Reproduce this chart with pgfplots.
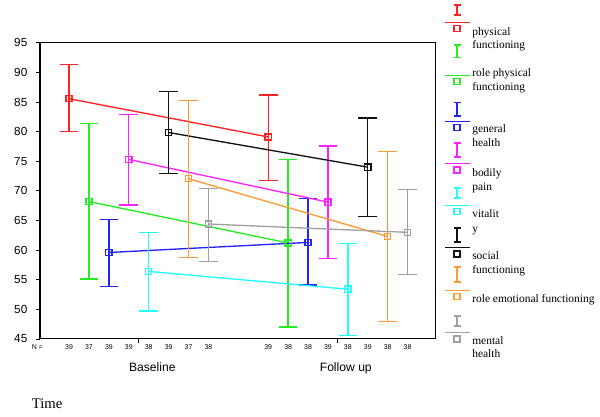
\documentclass[border=0pt]{standalone}
\usepackage{fontspec}
\setmainfont{Liberation Serif}
\newfontfamily\arial{Liberation Sans}
\usepackage{pgfplots}
\pgfplotsset{compat=1.18}
\definecolor{cR}{HTML}{FF2222}
\definecolor{cG}{HTML}{22EE22}
\definecolor{cB}{HTML}{2222FF}
\definecolor{cM}{HTML}{FF22FF}
\definecolor{cC}{HTML}{22FFFF}
\definecolor{cK}{HTML}{111111}
\definecolor{cO}{HTML}{FF9933}
\definecolor{cY}{HTML}{A0A0A0}
\newcommand\legfont{\fontsize{8.6}{10}\selectfont}
\newcommand\legsym[5]{%
  \draw[#1, line width=1pt] (457,#2) -- (457,#3) (453.5,#2) -- (460.5,#2) (453.5,#3) -- (460.5,#3);
  \draw[#1, line width=1pt] (445,#4) -- (470,#4);
  \draw[#1, line width=1pt] (454,{#5-3}) rectangle (460,{#5+3});}
\newcommand\legtext[2]{\node[anchor=base west, inner sep=0pt, font=\legfont] at (472,{#1+2.8}) {#2};}
\begin{document}
\begin{tikzpicture}
\begin{scope}[x=0.75pt, y=-0.75pt, shift={(-30pt,254.25pt)}]
\useasboundingbox (0,0) rectangle (600,417);
\end{scope}
\begin{axis}[
  at={(0,0)}, anchor=south west,
  scale only axis, width=296.6pt, height=222.2pt,
  xmin=-1.46, xmax=18.4, ymin=45, ymax=95,
  axis line style={line width=0.75pt},
  ytick={45,50,...,95},
  tick align=outside, tick pos=left,
  major tick length=3pt,
  tick style={black, line width=0.6pt},
  yticklabel style={font=\arial\fontsize{8.8}{10}\selectfont, xshift=-3pt},
  /pgf/number format/assume math mode=true,
  xtick={3.5,13.5}, xticklabels={},
  extra x ticks={0,1,2,3,4,5,6,7,10,11,12,13,14,15,16,17},
  extra x tick labels={39,37,39,39,38,39,37,38,39,38,38,39,38,39,38,38},
  extra x tick style={major tick length=0pt, tick label style={font=\arial\fontsize{5.2}{6}\selectfont, anchor=center, yshift=-6.4pt}},
  clip=false,
  error bars/y dir=both, error bars/y explicit,
  error bars/error mark options={rotate=90, mark size=7pt, line width=1pt},
  every axis plot/.append style={line width=1pt, mark=square, mark size=2.3pt, mark options={fill=white, solid}},
]
\addplot[cR, error bars/error bar style={cR, line width=1pt}] table[x=x,y=y,y error plus=ep,y error minus=em] {
x y ep em
0 85.55 5.8 5.55
10 79.1 7.1 7.3
};
\addplot[cG, error bars/error bar style={cG, line width=1pt}] table[x=x,y=y,y error plus=ep,y error minus=em] {
x y ep em
1 68.2 13.2 13.1
11 61.2 14.1 14.2
};
\addplot[cB, error bars/error bar style={cB, line width=1pt}] table[x=x,y=y,y error plus=ep,y error minus=em] {
x y ep em
2 59.6 5.55 5.7
12 61.3 7.4 7.2
};
\addplot[cM, error bars/error bar style={cM, line width=1pt}] table[x=x,y=y,y error plus=ep,y error minus=em] {
x y ep em
3 75.3 7.6 7.7
13 68.1 9.45 9.5
};
\addplot[cC, error bars/error bar style={cC, line width=1pt}] table[x=x,y=y,y error plus=ep,y error minus=em] {
x y ep em
4 56.4 6.6 6.7
14 53.4 7.7 7.8
};
\addplot[cK, error bars/error bar style={cK, line width=1pt}] table[x=x,y=y,y error plus=ep,y error minus=em] {
x y ep em
5 79.85 6.9 6.9
15 74.0 8.3 8.35
};
\addplot[cO, error bars/error bar style={cO, line width=1pt}] table[x=x,y=y,y error plus=ep,y error minus=em] {
x y ep em
6 72.05 13.15 13.25
16 62.3 14.3 14.4
};
\addplot[cY, error bars/error bar style={cY, line width=1pt}] table[x=x,y=y,y error plus=ep,y error minus=em] {
x y ep em
7 64.4 6.0 6.3
17 63.0 7.2 7.1
};
\end{axis}
\begin{scope}[x=0.75pt, y=-0.75pt, shift={(-30pt,254.25pt)}]
\node[anchor=east, inner sep=0pt, font=\arial\fontsize{5.2}{6}\selectfont] at (43,347.5) {N =};
\node[anchor=base, inner sep=0pt, font=\arial\fontsize{9.1}{11}\selectfont] at (152.3,371.7) {Baseline};
\node[anchor=base, inner sep=0pt, font=\arial\fontsize{9.1}{11}\selectfont] at (345.8,371.7) {Follow up};
\node[anchor=base west, inner sep=0pt, font=\fontsize{11}{13}\selectfont] at (31.7,409) {Time};
\legsym{cR}{5}{15}{22.3}{28.3}
\legtext{32.3}{physical}
\legtext{45.7}{functioning}
\legsym{cG}{45}{57.7}{75.7}{81.3}
\legtext{74}{role physical}
\legtext{87.3}{functioning}
\legsym{cB}{102.7}{116}{121.7}{127.3}
\legtext{130}{general}
\legtext{144}{health}
\legsym{cM}{143}{157}{163.3}{170}
\legtext{174}{bodily}
\legtext{188}{pain}
\legsym{cC}{188}{198}{205.7}{211.7}
\legtext{215}{vitalit}
\legtext{230}{y}
\legsym{cK}{228}{242}{247.7}{254}
\legtext{257}{social}
\legtext{270.7}{functioning}
\legsym{cO}{267}{282}{290.7}{296.7}
\legtext{300}{role emotional functioning}
\legsym{cY}{316}{326}{332.7}{339}
\legtext{341.7}{mental}
\legtext{355}{health}
\end{scope}
\end{tikzpicture}
\end{document}
